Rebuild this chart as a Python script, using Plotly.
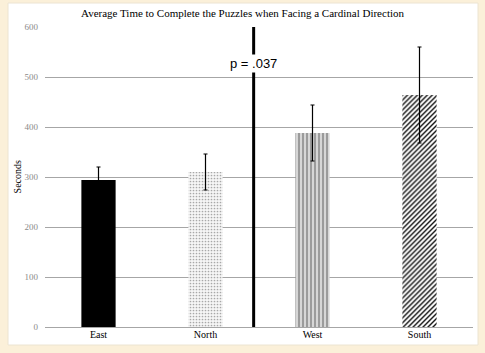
import plotly.graph_objects as go

categories = ["East", "North", "West", "South"]
means = [294, 310, 388, 464]
errors = [26, 36, 56, 96]
y_ticks = [0, 100, 200, 300, 400, 500, 600]
p_label = "p = .037"
divider_x = 1.45

SERIF = "Times New Roman, Liberation Serif, serif"

patterns = [
    dict(shape="", fillmode="overlay"),
    dict(shape=".", fgcolor="#a8a8a8", bgcolor="#f6f6f6", size=3, solidity=0.25, fillmode="replace"),
    dict(shape="|", fgcolor="#8c8c8c", bgcolor="#d6d6d6", size=4, solidity=0.4, fillmode="replace"),
    dict(shape="/", fgcolor="#111111", bgcolor="#ffffff", size=3.5, solidity=0.4, fillmode="replace"),
]
colors = ["#000000", "#f6f6f6", "#d6d6d6", "#ffffff"]

fig = go.Figure()
for i, c in enumerate(categories):
    fig.add_trace(go.Bar(
        x=[i], y=[means[i]], width=0.32,
        marker=dict(color=colors[i], line=dict(width=0), pattern=patterns[i]),
        error_y=dict(type="data", array=[errors[i]], color="#000000", thickness=1.2, width=2),
        showlegend=False,
    ))

fig.add_shape(type="line", x0=divider_x, x1=divider_x, y0=0, y1=600,
              xref="x", yref="y", line=dict(color="#000000", width=3))
fig.add_annotation(x=divider_x, y=528, xref="x", yref="y", text=p_label, showarrow=False,
                   font=dict(family="Liberation Sans, Arial", size=13, color="#000000"),
                   bgcolor="#ffffff", borderpad=1)

# cream frame
fig.add_shape(type="rect", xref="paper", yref="paper",
              x0=-0.0864, x1=1.0117, y0=-0.06, y1=1.08,
              fillcolor="#ffffff", line=dict(width=1, color="#ece4d2"), layer="below")

fig.add_annotation(x=-0.082, y=0.5, xref="paper", yref="paper", text="Seconds",
                   textangle=-90, showarrow=False,
                   font=dict(family=SERIF, size=10, color="#000000"))

fig.update_layout(
    width=485, height=353,
    margin=dict(l=45, r=12, t=27, b=26),
    paper_bgcolor="#fbf0d9",
    plot_bgcolor="#ffffff",
    title=dict(text="Average Time to Complete the Puzzles when Facing a Cardinal Direction",
               x=0.5, xanchor="center", y=1 - 13 / 353, yanchor="middle",
               font=dict(family=SERIF, size=11, color="#000000")),
    xaxis=dict(tickmode="array", tickvals=list(range(len(categories))), ticktext=categories,
               range=[-0.5, 3.5], showgrid=False, zeroline=False, showline=False,
               tickfont=dict(family=SERIF, size=10, color="#000000"),
               ticks=""),
    yaxis=dict(range=[0, 600], tickvals=y_ticks, showgrid=True, gridcolor="#a6a6a6", gridwidth=1,
               zeroline=True, zerolinecolor="#a6a6a6", zerolinewidth=1, showline=False,
               tickfont=dict(family=SERIF, size=9, color="#8a8a8a"),
               ticks="", ticklabelstandoff=6),
)

fig.write_html("out.html")
